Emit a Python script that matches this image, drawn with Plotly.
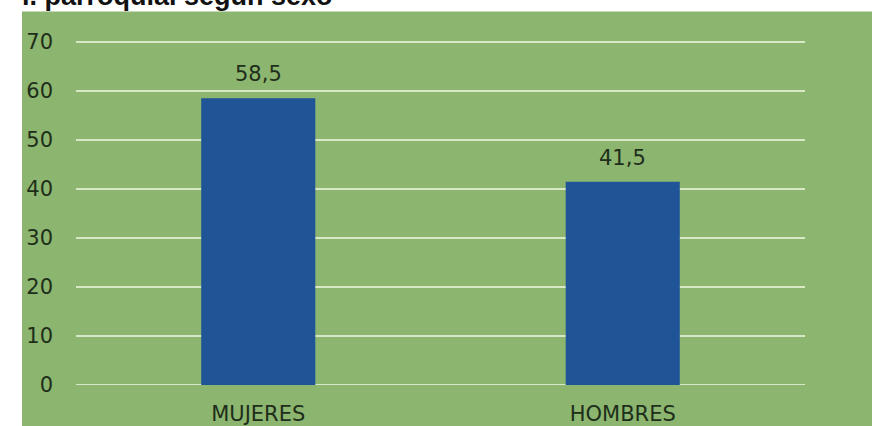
import plotly.graph_objects as go

categories = ["MUJERES", "HOMBRES"]
values = [58.5, 41.5]
y_ticks = [0, 10, 20, 30, 40, 50, 60, 70]
title_text = "l. parroquial según sexo"

W, H = 872, 438
L, R, T, B = 76, 67, 40, 48
pw, ph = W - L - R, H - T - B

def px_x(x):
    return (x - L) / pw

def px_y(y):
    return (H - B - y) / ph

text_col = "#1e2e1a"
font_fam = "DejaVu Sans"
grid_col = "#d6e8c6"

fig = go.Figure()
fig.add_trace(go.Bar(
    x=categories, y=values, width=0.313,
    marker=dict(color="#1f5597", line=dict(width=0)),
    hoverinfo="skip",
))

label_anns = [dict(x=c, y=v, xref="x", yref="y", text=f"{v:.1f}".replace(".", ","),
                   showarrow=False, yanchor="bottom", yshift=10,
                   font=dict(size=21, color=text_col, family=font_fam))
              for c, v in zip(categories, values)]

fig.update_layout(
    width=W, height=H, autosize=False,
    margin=dict(l=L, r=R, t=T, b=B, pad=0),
    paper_bgcolor="white",
    plot_bgcolor="rgba(0,0,0,0)",
    showlegend=False,
    font=dict(family=font_fam, color=text_col, size=21),
    shapes=[dict(type="rect", xref="paper", yref="paper",
                 x0=px_x(22), x1=px_x(W + 5), y0=px_y(H + 5), y1=px_y(11),
                 fillcolor="#8cb56f", line=dict(width=0), layer="below")],
    annotations=[dict(text="<b>" + title_text + "</b>", xref="paper", yref="paper",
                      x=px_x(20), y=px_y(13), xanchor="left", yanchor="bottom",
                      showarrow=False, font=dict(size=27, color="#111111", family="Liberation Sans"))]
                + label_anns,
    bargap=0.687,
)
fig.update_yaxes(range=[0, 70.4], tickvals=y_ticks, showgrid=True, gridcolor=grid_col,
                 gridwidth=2, zeroline=False, showline=False, ticks="",
                 ticklabelstandoff=22, tickfont=dict(size=21, color=text_col), fixedrange=True)
fig.update_xaxes(showgrid=False, showline=False, ticks="", ticklabelstandoff=14,
                 tickfont=dict(size=21, color=text_col), fixedrange=True)
fig.add_hline(y=0, line=dict(color=grid_col, width=2), layer="below")

fig.write_html("out.html",
               config={"responsive": False, "displayModeBar": False},
               post_script="document.body.style.margin='0px';document.body.style.overflow='hidden';"
                           "document.documentElement.style.overflow='hidden';")
